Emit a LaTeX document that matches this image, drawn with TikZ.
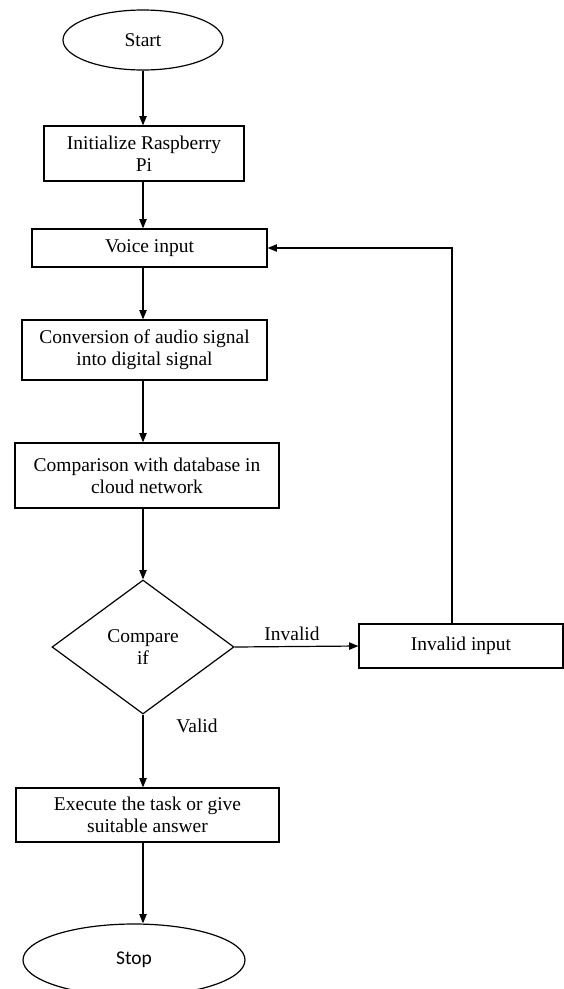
\documentclass[tikz,border=0pt]{standalone}
\usepackage{fontspec}
\setmainfont{Liberation Serif}
\newfontfamily\stopfont{Carlito}
\usetikzlibrary{shapes.geometric,arrows.meta}

\begin{document}
\begin{tikzpicture}[x=0.75pt,y=-0.75pt,
        line width=0.9pt,
        font=\fontsize{14.6}{16.5}\selectfont,
        box/.style={draw,rectangle,align=center,inner sep=2pt},
        term/.style={draw,ellipse,inner sep=0pt},
        arr/.style={-{Triangle[length=7pt,width=5.5pt]}}]
        \useasboundingbox (0,0) rectangle (564,989);
        % 主轴
        \coordinate (axis) at (143,0);
        % 开始, 结束
        \node [term,minimum width=120pt,minimum height=45pt] (start) at (143,40) {Start};
        \node [term,minimum width=166.5pt,minimum height=54pt] (stop) at (134,960) {\stopfont Stop};
        % 处理框
        \node [box,minimum width=150pt,minimum height=41.25pt] (init) at (144,153.5) {Initialize Raspberry\\Pi};
        \node [box,minimum width=176.25pt,minimum height=28.5pt] (voice) at (149.5,248) {Voice input};
        \node [box,minimum width=183.75pt,minimum height=45pt] (conv) at (144.5,350) {Conversion of audio signal\\into digital signal};
        \node [box,minimum width=198pt,minimum height=48.75pt] (comp) at (147,475.5) {Comparison with database in\\cloud network};
        \node [box,minimum width=197.25pt,minimum height=40.5pt] (exec) at (147.5,815) {Execute the task or give\\suitable answer};
        \node [box,minimum width=153pt,minimum height=33pt] (invalid) at (461,646) {Invalid input};
        % 判断
        \node [draw,diamond,aspect=1.36,inner sep=0pt,align=center,
            minimum width=136.5pt,minimum height=100.5pt] (dec) at (143,647) {Compare\\if};
        % 标签
        \node (invalidlbl) at (292,634) {Invalid};
        \node (validlbl) at (197,726) {Valid};
        % 回路拐点
        \coordinate (back) at (452,248);

        % 连线
        \draw [arr] (start.south -| axis) -- (init.north -| axis);
        \draw [arr] (init.south -| axis) -- (voice.north -| axis);
        \draw [arr] (voice.south -| axis) -- (conv.north -| axis);
        \draw [arr] (conv.south -| axis) -- (comp.north -| axis);
        \draw [arr] (comp.south -| axis) -- (dec.north);
        \draw [arr] (dec.east) -- (invalid.west);
        \draw [arr] (dec.south) -- (exec.north -| axis);
        \draw [arr] (exec.south -| axis) -- (stop.north -| axis);
        \draw [arr] (invalid.north -| back) -- (back) -- (voice.east);
    \end{tikzpicture}
\end{document}
